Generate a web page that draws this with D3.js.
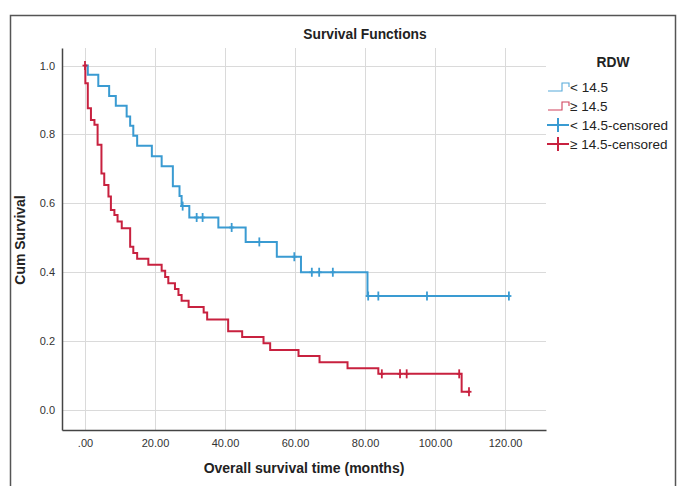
<!DOCTYPE html>
<html>
<head>
<meta charset="utf-8">
<script src="https://cdn.jsdelivr.net/npm/d3@7"></script>
<style>
  html, body { margin: 0; padding: 0; background: #fff; }
  svg { display: block; font-family: "Liberation Sans", Arial, sans-serif; }
</style>
</head>
<body>
<svg id="chart" width="682" height="486"></svg>
<script>
// ---- data ----
const groups = ["< 14.5", "≥ 14.5"];
const legendLabels = ["< 14.5", "≥ 14.5", "< 14.5-censored", "≥ 14.5-censored"];
const xTicks = [0, 20, 40, 60, 80, 100, 120];
const xTickLabels = [".00", "20.00", "40.00", "60.00", "80.00", "100.00", "120.00"];
const yTicks = [0, 0.2, 0.4, 0.6, 0.8, 1.0];
const yTickLabels = ["0.0", "0.2", "0.4", "0.6", "0.8", "1.0"];

const blueTimes = [0.8, 3.8, 6.9, 8.8, 11.9, 12.9, 13.8, 14.9, 19.1, 21.9, 25.1, 27.0, 27.6, 29.8, 38.1, 45.9, 54.8, 61.7, 80.7];
const blueSurv  = [0.973, 0.941, 0.912, 0.883, 0.852, 0.825, 0.796, 0.767, 0.737, 0.708, 0.650, 0.621, 0.592, 0.559, 0.530, 0.488, 0.445, 0.400, 0.331];
const blueCensor = [27.9, 31.9, 33.6, 41.9, 49.8, 59.8, 64.8, 66.9, 70.8, 80.9, 83.8, 97.7, 121.1];

const redTimes = [0.1, 0.8, 1.7, 2.7, 3.6, 4.7, 5.5, 6.7, 7.4, 8.4, 9.3, 10.5, 12.9, 13.8, 14.9, 18.1, 21.9, 22.9, 23.8, 25.7, 26.7, 27.6, 29.6, 33.9, 34.9, 40.9, 44.9, 51.0, 52.9, 61.0, 67.0, 75.0, 83.8, 107.6];
const redSurv  = [0.949, 0.876, 0.842, 0.828, 0.770, 0.687, 0.653, 0.620, 0.581, 0.566, 0.547, 0.528, 0.474, 0.456, 0.439, 0.422, 0.404, 0.386, 0.368, 0.351, 0.334, 0.317, 0.299, 0.283, 0.263, 0.229, 0.212, 0.194, 0.174, 0.157, 0.139, 0.121, 0.105, 0.053];
const redCensor = [0, 84.8, 90.0, 91.9, 106.9, 109.7];

// ---- layout ----
const colors = ["#3a9bd2", "#c8213f"];
const svg = d3.select("#chart");
const plot = { left: 62, right: 546, top: 48, bottom: 430 };

const x = d3.scaleLinear().domain([-6.57, 131.7]).range([plot.left, plot.right]);
const y = d3.scaleLinear().domain([-0.058, 1.051]).range([plot.bottom, plot.top]);

// outer frame
svg.append("rect").attr("x", 10.5).attr("y", 15.5).attr("width", 665).attr("height", 490)
  .attr("fill", "none").attr("stroke", "#555").attr("stroke-width", 1.5);

// title
svg.append("text").attr("x", 365).attr("y", 39).attr("text-anchor", "middle")
  .attr("font-size", 13.8).attr("font-weight", "bold").attr("fill", "#222").text("Survival Functions");

// gridlines
const grid = svg.append("g").attr("stroke", "#dadada").attr("stroke-width", 1);
xTicks.forEach(t => grid.append("line").attr("x1", Math.round(x(t)) + 0.5).attr("x2", Math.round(x(t)) + 0.5)
  .attr("y1", plot.top).attr("y2", plot.bottom));
yTicks.forEach(t => grid.append("line").attr("x1", plot.left).attr("x2", plot.right)
  .attr("y1", Math.round(y(t)) + 0.5).attr("y2", Math.round(y(t)) + 0.5));

// axes
const xAxis = d3.axisBottom(x).tickValues(xTicks).tickSize(0).tickPadding(9)
  .tickFormat((d, i) => xTickLabels[i]);
const yAxis = d3.axisLeft(y).tickValues(yTicks).tickSize(0).tickPadding(7)
  .tickFormat((d, i) => yTickLabels[i]);

const gx = svg.append("g").attr("transform", `translate(0,${plot.bottom})`).call(xAxis);
const gy = svg.append("g").attr("transform", `translate(${plot.left},0)`).call(yAxis);
[gx, gy].forEach(g => {
  g.select(".domain").attr("stroke", "#444").attr("stroke-width", 1.5);
  g.selectAll("text").attr("font-family", "Liberation Sans, Arial, sans-serif")
    .attr("font-size", 11).attr("fill", "#333");
});

// axis titles
svg.append("text").attr("x", 304).attr("y", 473).attr("text-anchor", "middle")
  .attr("font-size", 14).attr("font-weight", "bold").attr("fill", "#222")
  .text("Overall survival time (months)");
svg.append("text").attr("transform", "translate(25,240) rotate(-90)").attr("text-anchor", "middle")
  .attr("font-size", 14).attr("font-weight", "bold").attr("fill", "#222").text("Cum Survival");

// curves
function kmPoints(times, surv, censor) {
  const pts = [[0, 1]];
  times.forEach((t, i) => pts.push([t, surv[i]]));
  const end = Math.max(times[times.length - 1], censor.length ? censor[censor.length - 1] : 0);
  pts.push([end, surv[surv.length - 1]]);
  return pts;
}
function survAt(times, surv, t) {
  let v = 1;
  times.forEach((tt, i) => { if (tt <= t) v = surv[i]; });
  return v;
}
const line = d3.line().x(d => x(d[0])).y(d => y(d[1])).curve(d3.curveStepAfter);

const series = [
  { times: blueTimes, surv: blueSurv, censor: blueCensor, color: colors[0] },
  { times: redTimes, surv: redSurv, censor: redCensor, color: colors[1] }
];

series.forEach(s => {
  svg.append("path").datum(kmPoints(s.times, s.surv, s.censor)).attr("d", line)
    .attr("fill", "none").attr("stroke", s.color).attr("stroke-width", 2);
});
series.forEach(s => {
  const g = svg.append("g").attr("stroke", s.color).attr("stroke-width", 1.8);
  s.censor.forEach(t => {
    const cx = x(t), cy = y(survAt(s.times, s.surv, t));
    g.append("line").attr("x1", cx).attr("x2", cx).attr("y1", cy - 4.5).attr("y2", cy + 4.5);
    g.append("line").attr("x1", cx - 2.5).attr("x2", cx + 2.5).attr("y1", cy).attr("y2", cy);
  });
});

// legend
svg.append("text").attr("x", 613).attr("y", 67).attr("text-anchor", "middle")
  .attr("font-size", 13.8).attr("font-weight", "bold").attr("fill", "#222").text("RDW");
const rowsY = [87, 106, 125, 144];
legendLabels.forEach((lab, i) => {
  const cy = rowsY[i];
  const col = colors[i % 2];
  if (i < 2) {
    svg.append("path").attr("d", `M548,${cy + 4}H562V${cy - 4}H569V${cy}`)
      .attr("fill", "none").attr("stroke", col).attr("stroke-width", 1.1).attr("opacity", 0.85);
  } else {
    svg.append("line").attr("x1", 547).attr("x2", 569).attr("y1", cy).attr("y2", cy)
      .attr("stroke", col).attr("stroke-width", 2);
    svg.append("line").attr("x1", 558).attr("x2", 558).attr("y1", cy - 7).attr("y2", cy + 7)
      .attr("stroke", col).attr("stroke-width", 2);
  }
  svg.append("text").attr("x", 570).attr("y", cy + 4.5).attr("font-size", 13.5)
    .attr("fill", "#222").text(lab);
});
</script>
</body>
</html>
